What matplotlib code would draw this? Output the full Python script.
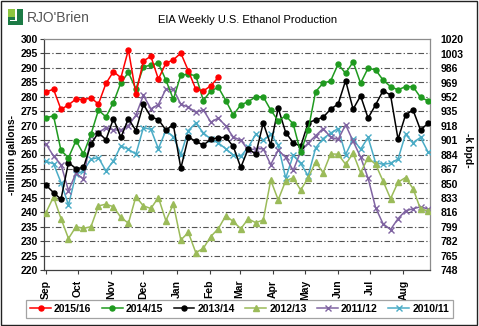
import numpy as np
import matplotlib
matplotlib.use("Agg")
import matplotlib.pyplot as plt
from matplotlib.patches import Rectangle

plt.rcParams['font.family'] = ['Liberation Sans', 'DejaVu Sans']

# weekly production, million gallons (week 0 = first week of Sep)
s2015 = [281.7, 282.6, 275.6, 277.2, 279.2, 279.0, 279.6, 277.5, 284.6, 288.7, 286.6, 296.3,
         281.0, 292.4, 294.0, 286.1, 291.6, 292.8, 295.1, 289.0, 282.6, 282.0, 283.8, 286.7]
s2014 = [272.7, 273.4, 261.4, 258.9, 264.8, 260.2, 267.0, 275.4, 273.0, 278.0, 284.9, 288.4,
         282.7, 290.3, 291.0, 291.6, 285.8, 279.1, 287.5, 287.8, 287.3, 278.7, 282.0, 283.3,
         278.7, 273.7, 277.2, 278.3, 280.0, 280.0, 275.4, 271.7, 273.4, 270.6, 260.7, 268.5,
         281.8, 284.7, 285.5, 291.3, 288.1, 292.1, 284.7, 289.9, 289.3, 285.8, 283.5, 282.4,
         283.5, 283.5, 279.8, 278.6]
s2013 = [249.4, 246.8, 244.5, 257.2, 255.1, 255.5, 263.6, 267.6, 265.1, 272.4, 265.9, 272.4,
         268.3, 277.4, 273.0, 272.1, 268.5, 270.3, 255.2, 266.0, 264.6, 263.2, 265.3, 265.8,
         266.0, 262.8, 255.5, 262.0, 260.1, 270.9, 263.3, 276.1, 267.6, 264.1, 262.8, 271.0,
         272.0, 272.9, 275.7, 277.5, 285.6, 275.7, 280.3, 272.6, 277.2, 282.1, 280.6, 265.3,
         273.7, 275.4, 268.5, 270.8]
s2012 = [239.9, 245.3, 237.8, 230.9, 235.0, 234.4, 235.0, 242.2, 242.8, 241.9, 238.2, 236.2,
         245.4, 242.2, 241.3, 245.1, 237.1, 242.8, 230.4, 233.0, 226.0, 227.5, 231.6, 234.3,
         238.8, 236.8, 234.3, 237.7, 236.4, 237.3, 251.1, 244.3, 250.9, 251.9, 247.7, 251.9,
         257.4, 253.7, 260.2, 260.1, 256.6, 260.4, 253.7, 258.9, 256.6, 250.8, 244.7, 250.4,
         252.0, 248.2, 241.1, 240.5]
s2011 = [263.6, 259.5, 256.5, 247.5, 253.5, 251.5, 266.5, 267.6, 269.3, 268.5, 268.5, 270.0,
         273.6, 280.5, 275.8, 277.3, 282.6, 282.6, 277.4, 276.4, 274.6, 275.5, 271.2, 272.6,
         269.9, 266.0, 265.0, 261.5, 262.0, 262.0, 256.5, 261.5, 259.0, 254.5, 261.0, 264.0,
         266.5, 269.0, 266.0, 265.2, 270.3, 264.6, 259.1, 251.8, 241.6, 236.0, 234.0, 237.8,
         240.5, 241.2, 241.9, 241.1]
s2010 = [257.6, 256.8, 250.3, 242.5, 253.2, 254.3, 258.4, 258.9, 254.3, 257.8, 263.0, 261.8,
         260.1, 269.3, 268.7, 262.0, 268.3, 266.2, 260.0, 268.3, 270.9, 267.5, 265.3, 264.0,
         262.0, 259.8, 259.4, 262.5, 267.0, 265.0, 267.0, 263.3, 251.8, 259.7, 256.9, 252.6,
         262.3, 265.5, 267.4, 269.0, 260.0, 265.3, 261.8, 265.9, 257.2, 256.6, 257.0, 258.4,
         267.0, 264.1, 265.9, 260.9]

series_names = ['2015/16', '2014/15', '2013/14', '2012/13', '2011/12', '2010/11']
months = ['Sep', 'Oct', 'Nov', 'Dec', 'Jan', 'Feb', 'Mar', 'Apr', 'May', 'Jun', 'Jul', 'Aug']
month_days = [30, 31, 30, 31, 31, 28, 31, 30, 31, 30, 31, 31]
left_ticks = list(range(220, 301, 5))
right_ticks = [748, 765, 782, 799, 816, 833, 850, 867, 884, 901, 918, 935, 952, 969, 986, 1003, 1020]

kbpd = 1000.0 / 42 / 7  # million gal/week -> k bpd

W, H = 479, 326
fig = plt.figure(figsize=(W / 100, H / 100), dpi=100)

# plot area in pixels
x0, x1, y0, y1 = 44, 429.5, 39, 270
ax = fig.add_axes([x0 / W, 1 - y1 / H, (x1 - x0) / W, (y1 - y0) / H])

styles = [
    dict(color='#ff0000', marker='o', ms=3.6),
    dict(color='#1f9a1f', marker='o', ms=3.6),
    dict(color='#000000', marker='o', ms=3.6),
    dict(color='#9bbb59', marker='^', ms=4.2),
    dict(color='#8064a2', marker='x', ms=3.8, mew=1.0),
    dict(color='#4bacc6', marker='x', ms=3.8, mew=1.0),
]
data = [s2015, s2014, s2013, s2012, s2011, s2010]
handles = []
for name, vals, st in zip(series_names, data, styles):
    wk = np.arange(len(vals))
    h, = ax.plot(wk, vals, lw=1.1, label=name, **st)
    handles.append(h)
# draw newest on top
for z, h in enumerate(handles):
    h.set_zorder(10 - z)

ax.set_xlim(-0.27, 51.2)
ax.set_ylim(220, 300)
ax.set_yticks(left_ticks)
for v in left_ticks[1:-1]:
    ax.axhline(v, color='#555555', lw=0.8, dashes=(5, 2, 1.2, 2), zorder=1)

mpos = np.concatenate([[0], np.cumsum(month_days[:-1])]) / 7.0
ax.set_xticks(mpos)
ax.set_xticklabels(months, rotation=90, fontweight='bold', fontsize=7.5)
ax.tick_params(axis='x', length=3, width=0.8, pad=4, color='#404040')
ax.tick_params(axis='y', length=3, width=0.8, pad=1.5, labelsize=7.5, color='#404040')
for lab in ax.get_yticklabels():
    lab.set_fontweight('bold')
for side in ['top', 'right']:
    ax.spines[side].set_color('#8c8c8c')
for side in ['left', 'bottom']:
    ax.spines[side].set_color('#404040')
for sp in ax.spines.values():
    sp.set_linewidth(0.9)

ax2 = ax.twinx()
ax2.set_ylim(220 * kbpd, 300 * kbpd)
ax2.set_yticks(right_ticks)
ax2.set_yticklabels([str(t) for t in right_ticks], fontweight='bold', fontsize=7.5)
ax2.tick_params(axis='y', length=0, pad=8)
for sp in ax2.spines.values():
    sp.set_visible(False)

fig.text(12 / W, 1 - 155 / H, '-million gallons-', rotation=90, ha='center', va='center',
         fontsize=7.5, fontweight='bold')
fig.text(468 / W, 1 - 150 / H, '-k bpd-', rotation=270, ha='center', va='center',
         fontsize=7.5, fontweight='bold')
fig.text(248 / W, 1 - 20 / H, 'EIA Weekly U.S. Ethanol Production', ha='center', va='center',
         fontsize=8)

leg = fig.legend(handles=handles, labels=series_names, loc='center',
                 bbox_to_anchor=(239.5 / W, 1 - 309 / H), ncol=6, frameon=True,
                 fancybox=False, edgecolor='#8c8c8c', fontsize=7.5, handlelength=2.0,
                 handletextpad=0.3, columnspacing=1.0, borderpad=0.35, borderaxespad=0)
leg.get_frame().set_linewidth(0.9)
for t in leg.get_texts():
    t.set_fontweight('bold')

# overlay in pixel coords for logo and outer frame
ov = fig.add_axes([0, 0, 1, 1], zorder=-5)
ov.set_xlim(0, W)
ov.set_ylim(H, 0)
ov.axis('off')
ov.add_patch(Rectangle((1, 1), W - 2.5, H - 2.5, fill=False, ec='#222222', lw=1.0))
ov.add_patch(Rectangle((8, 9), 15, 16, fc='#8cc63f', ec='none'))
ov.add_patch(Rectangle((8, 17), 15, 8, fc='#1c7b45', ec='none'))
ov.add_patch(Rectangle((17, 9), 6, 16, fc='#1c7b45', ec='none'))
ov.add_patch(Rectangle((15.5, 9), 1.5, 12, fc='white', ec='none'))
ov.add_patch(Rectangle((10, 19.5), 7, 1.5, fc='white', ec='none'))
ov.text(27, 18.5, "RJO'Brien", fontsize=10, color='#555555', va='center', ha='left')

fig.savefig('out.png', dpi=100, facecolor='white')
